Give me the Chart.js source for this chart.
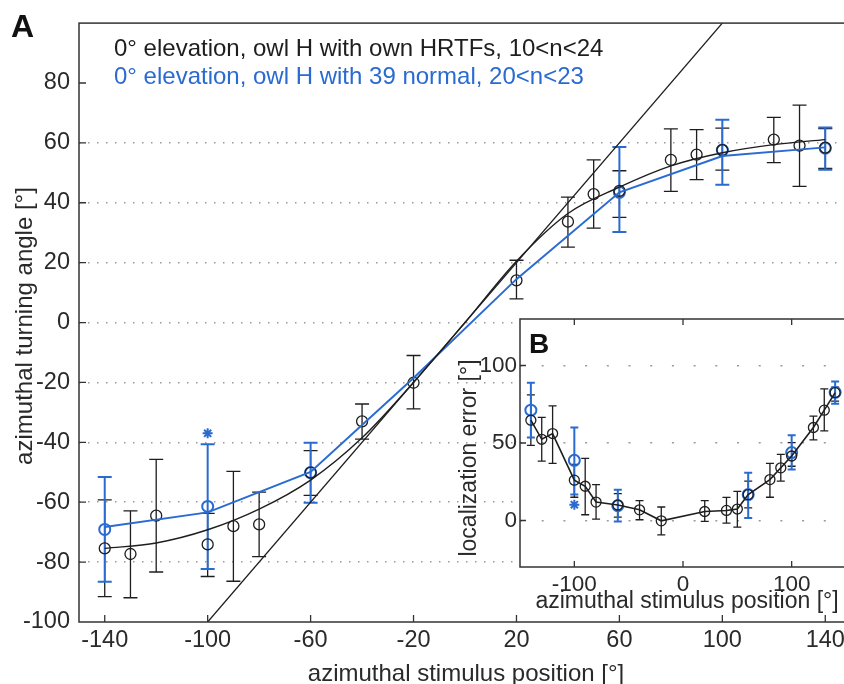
<!DOCTYPE html>
<html>
<head>
<meta charset="utf-8">
<script src="https://cdn.jsdelivr.net/npm/chart.js@4.4.1/dist/chart.umd.min.js"></script>
<style>
  html, body { margin: 0; padding: 0; background: #fff; overflow: hidden; width: 844px; height: 684px; }
  #mainChart { position: absolute; left: 0; top: 0; }
  #insetChart { position: absolute; left: 440px; top: 300px; }
</style>
</head>
<body>
<canvas id="mainChart" width="860" height="684"></canvas>
<canvas id="insetChart" width="420" height="320"></canvas>
<script>
// ---- Panel A: turning angle vs stimulus position ----
const stimA      = [-140, -130, -120, -100, -90, -80, -60, -40, -20, 20, 40, 50, 60, 80, 90, 100, 120, 130, 140];
const ownTurn    = [-75.4, -77.3, -64.5, -74.1, -68, -67.4, -50.1, -33, -20.1, 14.1, 33.7, 42.9, 44, 54.3, 56.1, 57.6, 61.1, 59.1, 58.4];
const ownTurnLo  = [-91.5, -91.9, -83.3, -84.8, -86.4, -78.2, -57.7, -38.9, -28.8, 7.9, 25.2, 31.5, 35.1, 43.8, 47.7, 50.9, 53.4, 45.5, 51.5];
const ownTurnHi  = [-59.2, -62.9, -45.7, -63.7, -49.7, -56.6, -42.8, -27.2, -11, 20.8, 41.9, 54.3, 50.7, 64.7, 64.4, 64.9, 68.5, 72.6, 64.8];

const normStim    = [-140, -100, -60, 60, 100, 140];
const normTurn    = [-69.1, -61.4, -50.1, 43.5, 57.6, 58.2];
const normTurnLo  = [-86.6, -82.3, -60.2, 30.2, 46, 51];
const normTurnHi  = [-51.6, -40.6, -40.1, 58.6, 67.7, 65.1];

// fitted curves
const ownFitStim  = [-140, -120, -100, -80, -60, -40, -20, 0, 20, 40, 60, 80, 100, 120, 140];
const ownFit      = [-75.4, -73.6, -69.2, -62.3, -52.6, -38.5, -20, 0, 20.5, 36.4, 45.2, 52.3, 56.7, 59.4, 61.1];
const normFitStim = [-140, -100, -60, -20, 20, 60, 100, 140];
const normFit     = [-68.3, -63.4, -49.9, -18.5, 14.5, 43.5, 55.6, 58.5];

const unityStim = [-100, 100];
const starStim  = [-100];
const starA     = [-37];

// ---- Panel B: localization error ----
const ownErr    = [64.7, 52.4, 56.1, 26, 22.1, 11.9, 10, 6.9, -0.2, 5.8, 6.5, 7.4, 16.7, 26.4, 34, 41.6, 60, 71.2, 82.5];
const ownErrLo  = [48.5, 38.3, 36.8, 15, 3.7, 0.9, 2.2, 0.5, -9.3, -0.6, -1.7, -4.3, 8.1, 15, 25.4, 35, 52, 57.8, 77];
const ownErrHi  = [81, 66.5, 74, 36.2, 40.1, 23.2, 17.3, 12.8, 8.7, 12.8, 14.9, 18.8, 25.4, 36.8, 42.7, 50.3, 67.3, 84.9, 86];
const normErr   = [71.2, 38.8, 9.5, 16.7, 43.8, 82.7];
const normErrLo = [53.5, 16.7, -0.6, 1.6, 32.9, 75.3];
const normErrHi = [88.8, 60, 19.9, 30.8, 55, 89.6];
const starB     = [10.2];

// ticks
const xTicksA = [-140, -100, -60, -20, 20, 60, 100, 140];
const yTicksA = [-100, -80, -60, -40, -20, 0, 20, 40, 60, 80];
const xTicksB = [-100, 0, 100];
const yTicksB = [0, 50, 100];

const legendOwn  = '0° elevation, owl H with own HRTFs, 10<n<24';
const legendNorm = '0° elevation, owl H with 39 normal, 20<n<23';

const FONT = "'Liberation Sans', Arial, Helvetica, sans-serif";
const BLUE = '#2a6bd1';
const INK = '#1e1e1e';
const TEXT = '#2a2a2a';

const pts = (xs, ys) => xs.map((x, i) => ({ x: x, y: ys[i] }));

// draws vertical error bars with caps from errLo / errHi
const errorBars = {
  id: 'errorBars',
  beforeDatasetsDraw(chart) {
    const ctx = chart.ctx;
    const xs = chart.scales.x, ys = chart.scales.y;
    chart.data.datasets.forEach(ds => {
      if (!ds.errLo) return;
      ctx.save();
      ctx.strokeStyle = ds.borderColor;
      ctx.lineWidth = ds.errWidth;
      ds.data.forEach((p, i) => {
        const x = xs.getPixelForValue(p.x);
        const y1 = ys.getPixelForValue(ds.errLo[i]);
        const y2 = ys.getPixelForValue(ds.errHi[i]);
        ctx.beginPath();
        ctx.moveTo(x, y1); ctx.lineTo(x, y2);
        ctx.moveTo(x - ds.cap, y1); ctx.lineTo(x + ds.cap, y1);
        ctx.moveTo(x - ds.cap, y2); ctx.lineTo(x + ds.cap, y2);
        ctx.stroke();
      });
      ctx.restore();
    });
  }
};

// box, inward ticks, optional white background
function frame(opts) {
  return {
    id: 'frame',
    beforeDraw(chart) {
      if (!opts.fill) return;
      const a = chart.chartArea;
      chart.ctx.save();
      chart.ctx.fillStyle = '#fff';
      chart.ctx.fillRect(a.left, a.top, a.right - a.left, a.bottom - a.top);
      chart.ctx.restore();
    },
    afterDraw(chart) {
      const ctx = chart.ctx, a = chart.chartArea;
      const xs = chart.scales.x, ys = chart.scales.y;
      ctx.save();
      ctx.strokeStyle = '#333';
      ctx.lineWidth = 1.5;
      ctx.strokeRect(a.left, a.top, a.right - a.left, a.bottom - a.top);
      ctx.lineWidth = 1.3;
      ctx.beginPath();
      xs.ticks.forEach(t => {
        const x = xs.getPixelForValue(t.value);
        ctx.moveTo(x, a.bottom); ctx.lineTo(x, a.bottom - opts.tick);
        if (opts.topTicks) { ctx.moveTo(x, a.top); ctx.lineTo(x, a.top + opts.tick); }
      });
      ys.ticks.forEach(t => {
        const y = ys.getPixelForValue(t.value);
        if (y <= a.top + 1 || y >= a.bottom - 1) return;
        ctx.moveTo(a.left, y); ctx.lineTo(a.left + opts.tick, y);
      });
      ctx.stroke();
      ctx.restore();
    }
  };
}

// free text: titles, legend, panel letters
function texts(items) {
  return {
    id: 'texts',
    afterDraw(chart) {
      const ctx = chart.ctx;
      items.forEach(t => {
        ctx.save();
        ctx.font = t.font;
        ctx.fillStyle = t.color;
        ctx.textAlign = t.align || 'left';
        ctx.textBaseline = 'alphabetic';
        ctx.translate(t.x, t.y);
        if (t.rot) ctx.rotate(t.rot);
        ctx.fillText(t.text, 0, 0);
        ctx.restore();
      });
    }
  };
}

function axis(min, max, ticks, size, pad, gridColor, dash) {
  return {
    type: 'linear',
    min: min,
    max: max,
    afterBuildTicks: s => { s.ticks = ticks.map(v => ({ value: v })); },
    grid: { display: !!gridColor, drawTicks: false, color: gridColor || 'transparent', lineWidth: 1.5 },
    border: { display: false, dash: dash || [] },
    ticks: { color: TEXT, font: { family: FONT, size: size }, padding: pad, maxRotation: 0, autoSkip: false }
  };
}

Chart.defaults.font.family = FONT;

// ---------------- main panel ----------------
const mainX = axis(-150, 150, xTicksA, 23.5, 4);
mainX.afterFit = s => { s.height = 62; };
const mainY = axis(-100, 100, yTicksA, 23.5, 9,
  c => (c.tick.value > 60 || c.tick.value < -80) ? 'rgba(0,0,0,0)' : '#9a9a9a', [1.5, 7.5]);
mainY.afterFit = s => { s.width = 79; };

new Chart(document.getElementById('mainChart'), {
  type: 'scatter',
  data: {
    datasets: [
      { data: pts(unityStim, unityStim), showLine: true, borderColor: INK, borderWidth: 1.3, pointRadius: 0 },
      { data: pts(ownFitStim, ownFit), showLine: true, borderColor: INK, borderWidth: 1.4, pointRadius: 0,
        cubicInterpolationMode: 'monotone' },
      { data: pts(normFitStim, normFit), showLine: true, borderColor: BLUE, borderWidth: 2, pointRadius: 0 },
      { data: pts(stimA, ownTurn), borderColor: INK, backgroundColor: 'transparent', pointRadius: 5.5,
        pointBorderWidth: 1.3, errLo: ownTurnLo, errHi: ownTurnHi, errWidth: 1.3, cap: 7 },
      { data: pts(normStim, normTurn), borderColor: BLUE, backgroundColor: 'transparent', pointRadius: 5.5,
        pointBorderWidth: 2, errLo: normTurnLo, errHi: normTurnHi, errWidth: 2, cap: 7 },
      { data: pts(starStim, starA), borderColor: BLUE, pointStyle: 'star', pointRadius: 5, pointBorderWidth: 2 }
    ]
  },
  options: {
    responsive: false,
    animation: false,
    events: [],
    layout: { padding: { top: 15, right: 9, left: 0, bottom: 0 } },
    plugins: { legend: { display: false }, tooltip: { enabled: false } },
    scales: { x: mainX, y: mainY }
  },
  plugins: [
    errorBars,
    frame({ tick: 7, topTicks: false, fill: false }),
    texts([
      { text: 'A', x: 11, y: 37, font: 'bold 32px ' + FONT, color: '#111' },
      { text: legendOwn, x: 114, y: 56, font: '24px ' + FONT, color: INK },
      { text: legendNorm, x: 114, y: 84, font: '24px ' + FONT, color: BLUE },
      { text: 'azimuthal stimulus position [°]', x: 466, y: 681, align: 'center', font: '24px ' + FONT, color: TEXT },
      { text: 'azimuthal turning angle [°]', x: 32, y: 326, align: 'center', rot: -Math.PI / 2, font: '24px ' + FONT, color: TEXT }
    ])
  ]
});

// ---------------- inset panel B ----------------
const insetX = axis(-150, 150, xTicksB, 22.5, 4.5);
insetX.afterFit = s => { s.height = 53; };
const insetY = axis(-30, 130, yTicksB, 22.5, 3, '#9a9a9a', [2, 19.7]);
insetY.afterFit = s => { s.width = 80; };

new Chart(document.getElementById('insetChart'), {
  type: 'scatter',
  data: {
    datasets: [
      { data: pts(stimA, ownErr), showLine: true, borderColor: INK, borderWidth: 1.6, backgroundColor: 'transparent',
        pointRadius: 5, pointBorderWidth: 1.3, errLo: ownErrLo, errHi: ownErrHi, errWidth: 1.3, cap: 4 },
      { data: pts(normStim, normErr), borderColor: BLUE, backgroundColor: 'transparent', pointRadius: 5.5,
        pointBorderWidth: 2, errLo: normErrLo, errHi: normErrHi, errWidth: 2, cap: 4 },
      { data: pts(starStim, starB), borderColor: BLUE, pointStyle: 'star', pointRadius: 5, pointBorderWidth: 2 }
    ]
  },
  options: {
    responsive: false,
    animation: false,
    events: [],
    layout: { padding: { top: 19, right: 14, left: 0, bottom: 0 } },
    plugins: { legend: { display: false }, tooltip: { enabled: false } },
    scales: { x: insetX, y: insetY }
  },
  plugins: [
    errorBars,
    frame({ tick: 6, topTicks: true, fill: true }),
    texts([
      { text: 'B', x: 89, y: 53, font: 'bold 28px ' + FONT, color: '#111' },
      { text: 'azimuthal stimulus position [°]', x: 247, y: 308, align: 'center', font: '23px ' + FONT, color: TEXT },
      { text: 'localization error [°]', x: 36, y: 158, align: 'center', rot: -Math.PI / 2, font: '23px ' + FONT, color: TEXT }
    ])
  ]
});
</script>
</body>
</html>
